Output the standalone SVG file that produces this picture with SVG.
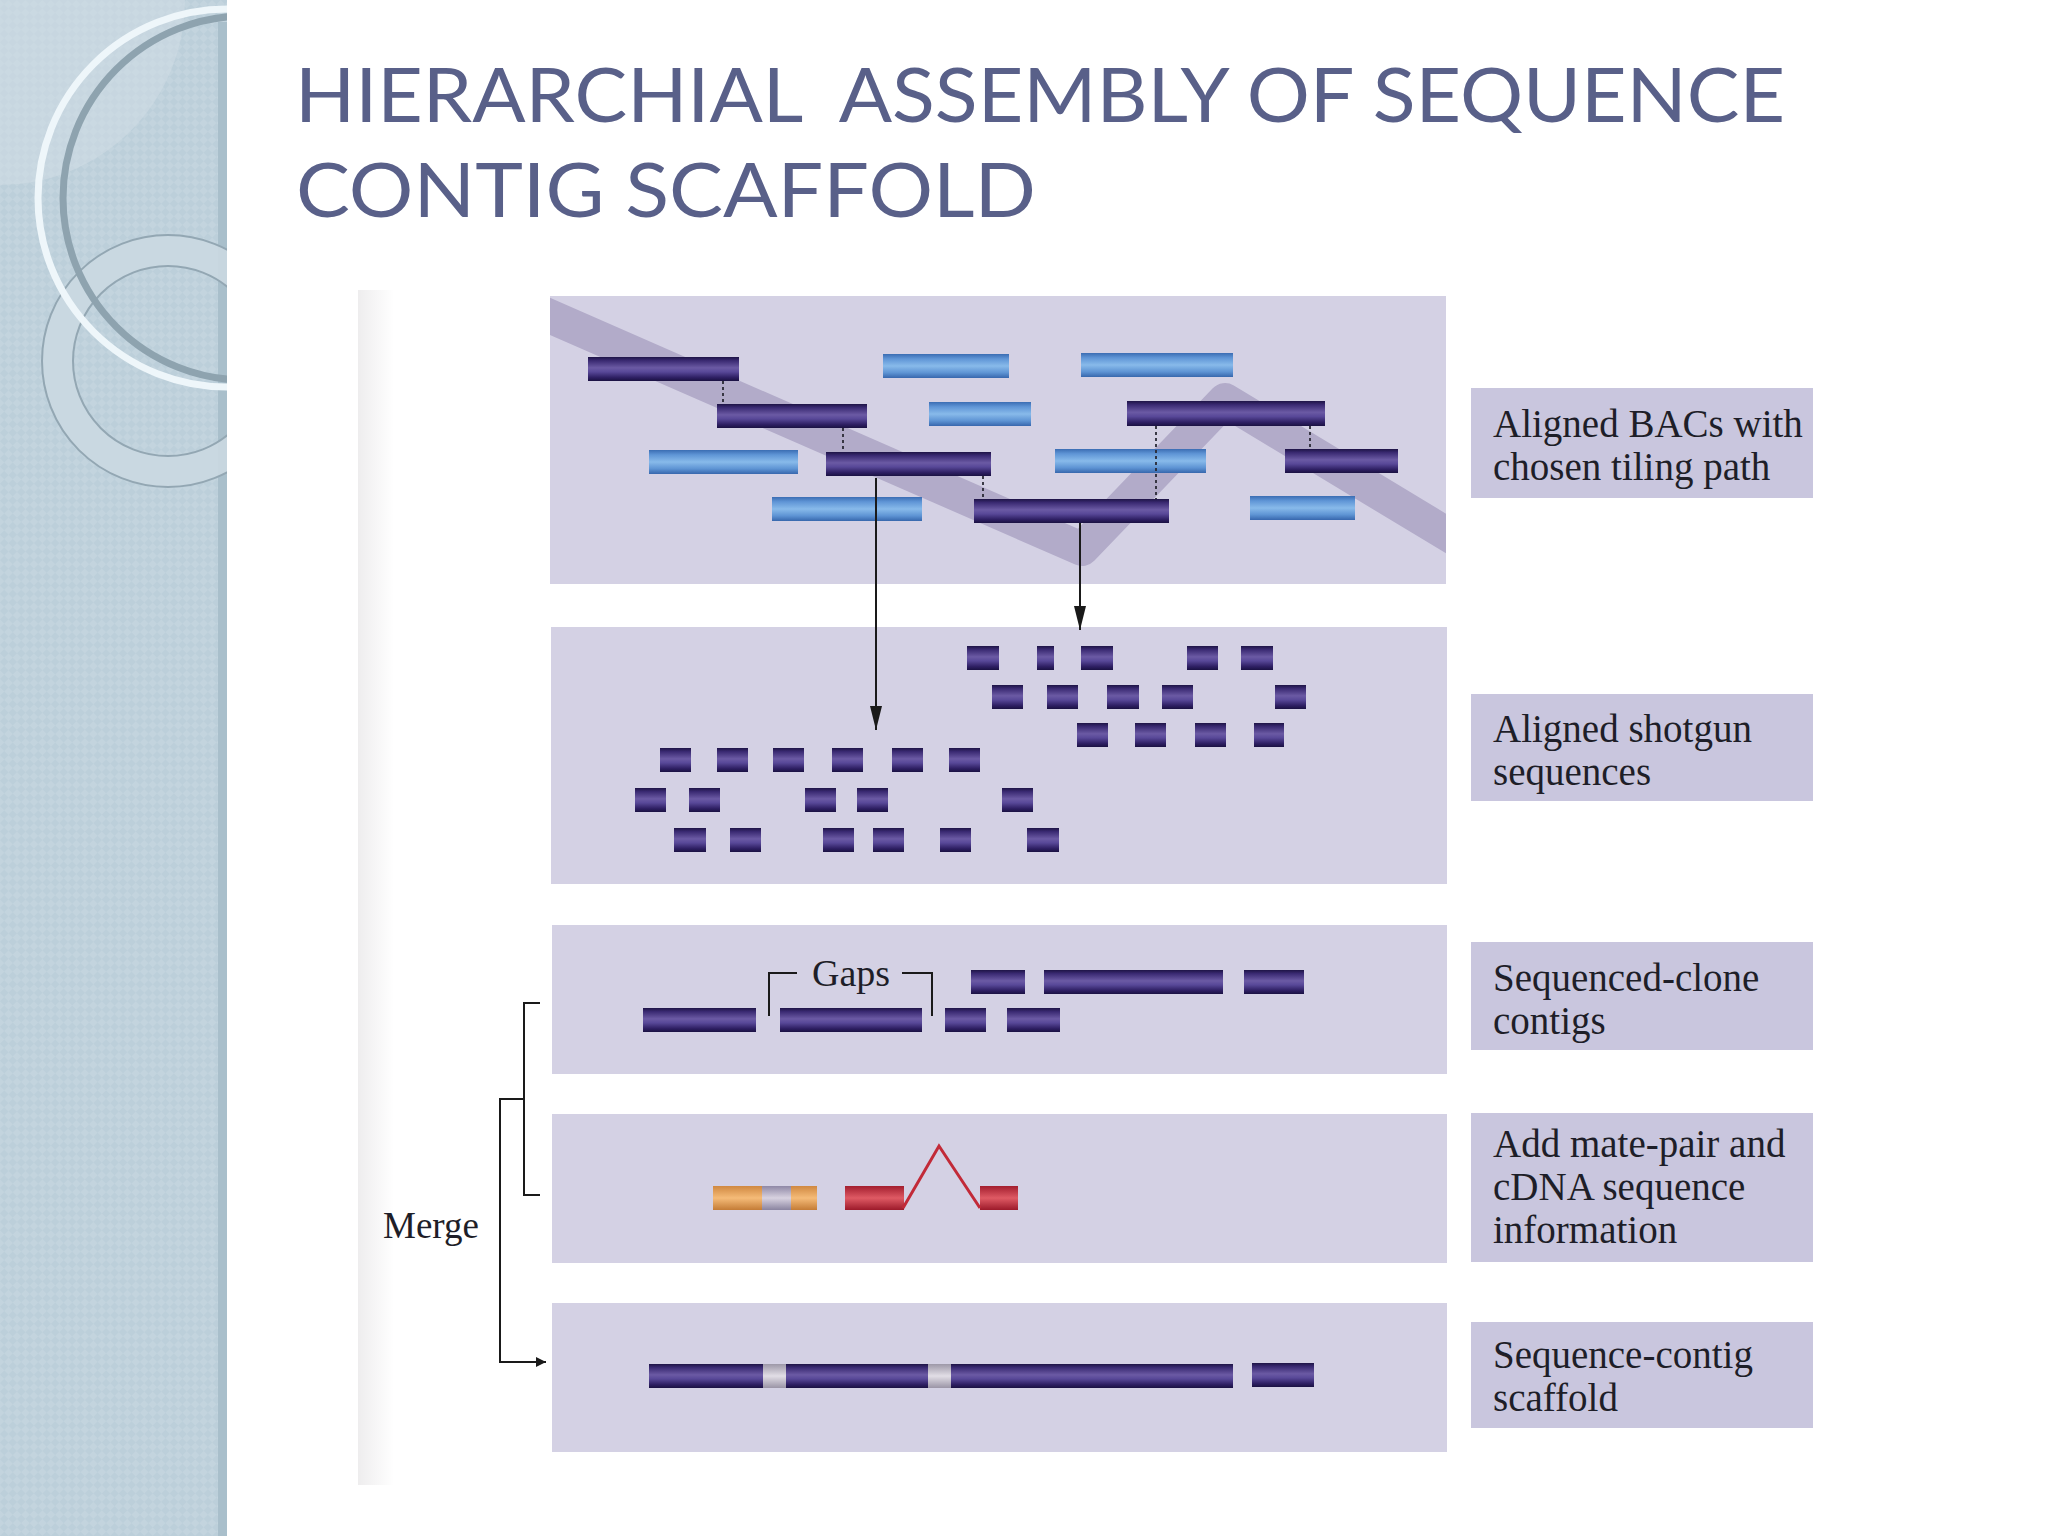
<svg xmlns="http://www.w3.org/2000/svg" width="2048" height="1536" viewBox="0 0 2048 1536">
<defs>
  <style>
    .title{font-family:Lato,"Open Sans","Liberation Sans",sans-serif;font-size:76px;fill:#596089;}
    .lbl{font-family:"Liberation Serif","DejaVu Serif",serif;font-size:39px;fill:#1e1e28;}
    .note{font-family:"Liberation Serif","DejaVu Serif",serif;font-size:38px;fill:#1e1e28;}
    .panel{fill:#d4d1e4;}
    .lbox{fill:#c9c6de;}
    .dark{fill:url(#gDark);}
    .light{fill:url(#gLight);}
    .dash{stroke:#2a2a35;stroke-width:1.8;stroke-dasharray:3 3;fill:none;}
    .line{stroke:#1a1a1a;stroke-width:2;fill:none;}
  </style>
  <pattern id="chk" width="12" height="12" patternUnits="userSpaceOnUse" patternTransform="rotate(45)">
    <rect width="12" height="12" fill="#bccfda"/>
    <rect width="6" height="6" fill="#c3d4de"/>
    <rect x="6" y="6" width="6" height="6" fill="#c3d4de"/>
  </pattern>
  <linearGradient id="gDark" x1="0" y1="0" x2="0" y2="1">
    <stop offset="0" stop-color="#1e1446"/>
    <stop offset="0.15" stop-color="#3a2a72"/>
    <stop offset="0.45" stop-color="#6b5aa4"/>
    <stop offset="0.62" stop-color="#584898"/>
    <stop offset="0.85" stop-color="#2f2064"/>
    <stop offset="1" stop-color="#1a1142"/>
  </linearGradient>
  <linearGradient id="gLight" x1="0" y1="0" x2="0" y2="1">
    <stop offset="0" stop-color="#3b6db3"/>
    <stop offset="0.2" stop-color="#5f95d6"/>
    <stop offset="0.5" stop-color="#88baea"/>
    <stop offset="0.78" stop-color="#5e94d4"/>
    <stop offset="1" stop-color="#3767ad"/>
  </linearGradient>
  <linearGradient id="gOrange" x1="0" y1="0" x2="0" y2="1">
    <stop offset="0" stop-color="#d08840"/>
    <stop offset="0.5" stop-color="#f5bb78"/>
    <stop offset="1" stop-color="#c47c36"/>
  </linearGradient>
  <linearGradient id="gRed" x1="0" y1="0" x2="0" y2="1">
    <stop offset="0" stop-color="#a31e2e"/>
    <stop offset="0.5" stop-color="#df5a64"/>
    <stop offset="1" stop-color="#9c1a2a"/>
  </linearGradient>
  <linearGradient id="gGrey" x1="0" y1="0" x2="0" y2="1">
    <stop offset="0" stop-color="#8f88a6"/>
    <stop offset="0.5" stop-color="#d8d2e0"/>
    <stop offset="1" stop-color="#8a84a0"/>
  </linearGradient>
  <linearGradient id="gGap" x1="0" y1="0" x2="0" y2="1">
    <stop offset="0" stop-color="#9d98a8"/>
    <stop offset="0.5" stop-color="#e2dee6"/>
    <stop offset="1" stop-color="#9a94a6"/>
  </linearGradient>
  <linearGradient id="gLeft" x1="0" y1="0" x2="1" y2="0">
    <stop offset="0" stop-color="#eeedee"/>
    <stop offset="1" stop-color="#ffffff"/>
  </linearGradient>
  <clipPath id="clipSide"><rect x="0" y="0" width="227" height="1536"/></clipPath>
  <clipPath id="clipP1"><rect x="550" y="296" width="896" height="288"/></clipPath>
  <marker id="arr" viewBox="0 0 10 10" refX="10" refY="5" markerWidth="10" markerHeight="10" markerUnits="userSpaceOnUse" orient="auto">
    <path d="M0,0 L10,5 L0,10 z" fill="#1a1a1a"/>
  </marker>
  <marker id="arrV" viewBox="0 0 24 12" refX="24" refY="6" markerWidth="24" markerHeight="12" markerUnits="userSpaceOnUse" orient="auto">
    <path d="M0,0 L24,6 L0,12 z" fill="#1a1a1a"/>
  </marker>
</defs>

<rect width="2048" height="1536" fill="#ffffff"/>

<!-- sidebar -->
<g id="sidebar" clip-path="url(#clipSide)">
  <rect x="0" y="0" width="227" height="1536" fill="url(#chk)"/>
  <circle cx="0" cy="0" r="185" fill="#d2dee6" opacity="0.5"/>
  <rect x="218" y="22" width="9" height="1514" fill="#a9bfcb"/>
  <circle cx="168" cy="361" r="110.5" fill="none" stroke="#cad8e1" stroke-width="31" opacity="0.9"/>
  <circle cx="168" cy="361" r="126" fill="none" stroke="#93a7b3" stroke-width="2"/>
  <circle cx="168" cy="361" r="95" fill="none" stroke="#93a7b3" stroke-width="2"/>
  <circle cx="227" cy="198" r="189" fill="none" stroke="#eef6fa" stroke-width="7"/>
  <circle cx="245" cy="198" r="182" fill="none" stroke="#8ea3af" stroke-width="7"/>
</g>

<!-- title -->
<text class="title" x="295" y="122" textLength="1490" lengthAdjust="spacingAndGlyphs" xml:space="preserve">HIERARCHIAL  ASSEMBLY OF SEQUENCE</text>
<text class="title" x="296" y="217" textLength="740" lengthAdjust="spacingAndGlyphs">CONTIG SCAFFOLD</text>

<!-- scanned page tint -->
<rect x="358" y="290" width="36" height="1195" fill="url(#gLeft)"/>

<!-- Panel 1 -->
<g id="panel-bacs">
  <rect class="panel" x="550" y="296" width="896" height="288"/>
  <path clip-path="url(#clipP1)" d="M540,312 L1082,549 L1225,400 L1470,548" fill="none" stroke="#b2abc9" stroke-width="34" stroke-linejoin="round"/>
  <rect class="light" x="883" y="354" width="126" height="24"/>
  <rect class="light" x="1081" y="353" width="152" height="24"/>
  <rect class="light" x="929" y="402" width="102" height="24"/>
  <rect class="light" x="649" y="450" width="149" height="24"/>
  <rect class="light" x="1055" y="449" width="151" height="24"/>
  <rect class="light" x="772" y="497" width="150" height="24"/>
  <rect class="light" x="1250" y="496" width="105" height="24"/>
  <rect class="dark" x="588" y="357" width="151" height="24"/>
  <rect class="dark" x="717" y="404" width="150" height="24"/>
  <rect class="dark" x="826" y="452" width="165" height="24"/>
  <rect class="dark" x="974" y="499" width="195" height="24"/>
  <rect class="dark" x="1127" y="401" width="198" height="25"/>
  <rect class="dark" x="1285" y="449" width="113" height="24"/>
</g>

<!-- Panel 2 -->
<g id="panel-shotgun">
  <rect class="panel" x="551" y="627" width="896" height="257"/>
  <g class="dark">
    <rect x="967" y="646" width="32" height="24"/><rect x="1037" y="646" width="17" height="24"/><rect x="1081" y="646" width="32" height="24"/><rect x="1187" y="646" width="31" height="24"/><rect x="1241" y="646" width="32" height="24"/>
    <rect x="992" y="685" width="31" height="24"/><rect x="1047" y="685" width="31" height="24"/><rect x="1107" y="685" width="32" height="24"/><rect x="1162" y="685" width="31" height="24"/><rect x="1275" y="685" width="31" height="24"/>
    <rect x="1077" y="723" width="31" height="24"/><rect x="1135" y="723" width="31" height="24"/><rect x="1195" y="723" width="31" height="24"/><rect x="1254" y="723" width="30" height="24"/>
    <rect x="660" y="748" width="31" height="24"/><rect x="717" y="748" width="31" height="24"/><rect x="773" y="748" width="31" height="24"/><rect x="832" y="748" width="31" height="24"/><rect x="892" y="748" width="31" height="24"/><rect x="949" y="748" width="31" height="24"/>
    <rect x="635" y="788" width="31" height="24"/><rect x="689" y="788" width="31" height="24"/><rect x="805" y="788" width="31" height="24"/><rect x="857" y="788" width="31" height="24"/><rect x="1002" y="788" width="31" height="24"/>
    <rect x="674" y="828" width="32" height="24"/><rect x="730" y="828" width="31" height="24"/><rect x="823" y="828" width="31" height="24"/><rect x="873" y="828" width="31" height="24"/><rect x="940" y="828" width="31" height="24"/><rect x="1027" y="828" width="32" height="24"/>
  </g>
</g>

<!-- Panel 3 -->
<g id="panel-contigs">
  <rect class="panel" x="552" y="925" width="895" height="149"/>
  <g class="dark">
    <rect x="971" y="970" width="54" height="24"/>
    <rect x="1044" y="970" width="179" height="24"/>
    <rect x="1244" y="970" width="60" height="24"/>
    <rect x="643" y="1008" width="113" height="24"/>
    <rect x="780" y="1008" width="142" height="24"/>
    <rect x="945" y="1008" width="41" height="24"/>
    <rect x="1007" y="1008" width="53" height="24"/>
  </g>
  <path class="line" d="M769,1016 V973 H797 M932,1016 V973 H902"/>
  <text class="note" x="851" y="986" text-anchor="middle">Gaps</text>
</g>

<!-- Panel 4 -->
<g id="panel-matepair">
  <rect class="panel" x="552" y="1114" width="895" height="149"/>
  <rect x="713" y="1186" width="104" height="24" fill="url(#gOrange)"/>
  <rect x="762" y="1186" width="29" height="24" fill="url(#gGrey)"/>
  <rect x="845" y="1186" width="59" height="24" fill="url(#gRed)"/>
  <rect x="980" y="1186" width="38" height="24" fill="url(#gRed)"/>
  <path d="M903,1208 L939,1146 L980,1208" fill="none" stroke="#c22a38" stroke-width="3"/>
</g>

<!-- Panel 5 -->
<g id="panel-scaffold">
  <rect class="panel" x="552" y="1303" width="895" height="149"/>
  <rect class="dark" x="649" y="1364" width="584" height="24"/>
  <rect x="763" y="1364" width="23" height="24" fill="url(#gGap)"/>
  <rect x="928" y="1364" width="23" height="24" fill="url(#gGap)"/>
  <rect class="dark" x="1252" y="1363" width="62" height="24"/>
</g>

<!-- Label boxes -->
<g id="label-bacs">
  <rect class="lbox" x="1471" y="388" width="342" height="110"/>
  <text class="lbl" x="1493" y="437">Aligned BACs with</text>
  <text class="lbl" x="1493" y="480">chosen tiling path</text>
</g>
<g id="label-shotgun">
  <rect class="lbox" x="1471" y="694" width="342" height="107"/>
  <text class="lbl" x="1493" y="742">Aligned shotgun</text>
  <text class="lbl" x="1493" y="785">sequences</text>
</g>
<g id="label-contigs">
  <rect class="lbox" x="1471" y="942" width="342" height="108"/>
  <text class="lbl" x="1493" y="991">Sequenced-clone</text>
  <text class="lbl" x="1493" y="1034">contigs</text>
</g>
<g id="label-matepair">
  <rect class="lbox" x="1471" y="1113" width="342" height="149"/>
  <text class="lbl" x="1493" y="1157">Add mate-pair and</text>
  <text class="lbl" x="1493" y="1200">cDNA sequence</text>
  <text class="lbl" x="1493" y="1243">information</text>
</g>
<g id="label-scaffold">
  <rect class="lbox" x="1471" y="1322" width="342" height="106"/>
  <text class="lbl" x="1493" y="1368">Sequence-contig</text>
  <text class="lbl" x="1493" y="1411">scaffold</text>
</g>

<!-- Connectors -->
<g id="connectors">
  <path class="dash" d="M723,381 V404"/>
  <path class="dash" d="M843,428 V452"/>
  <path class="dash" d="M983,476 V499"/>
  <path class="dash" d="M1156,426 V499"/>
  <path class="dash" d="M1310,426 V449"/>
  <line class="line" x1="876" y1="478" x2="876" y2="730" marker-end="url(#arrV)"/>
  <line class="line" x1="1080" y1="523" x2="1080" y2="630" marker-end="url(#arrV)"/>
  <path class="line" d="M540,1003 H524 V1195 H540"/>
  <path class="line" d="M524,1099 H500 V1362 H546" marker-end="url(#arr)"/>
  <text class="note" x="383" y="1238" style="font-size:37px">Merge</text>
</g>
</svg>
